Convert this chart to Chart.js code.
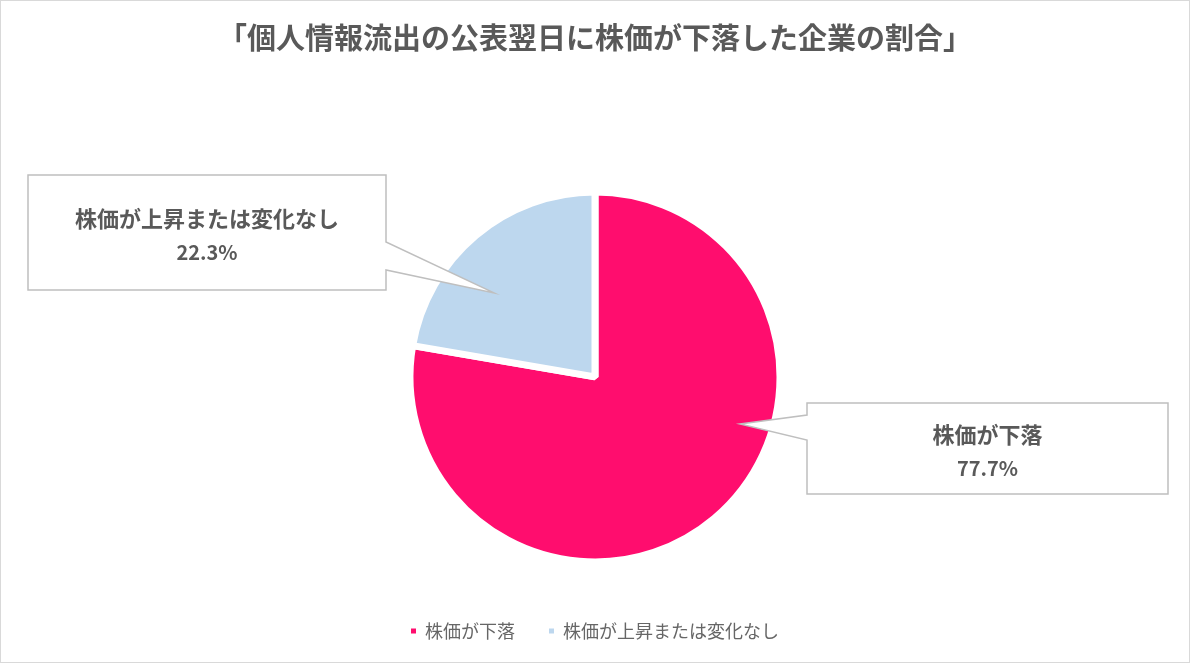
<!DOCTYPE html>
<html>
<head>
<meta charset="utf-8">
<script src="https://cdn.jsdelivr.net/npm/chart.js@4.4.1/dist/chart.umd.min.js"></script>
<style>
    html, body { margin: 0; padding: 0; background: #ffffff; }
    #wrap { width: 1190px; height: 663px; position: relative; }
</style>
</head>
<body>
<div id="wrap"><canvas id="pieChart"></canvas></div>
<script>
// data
var labels = ['株価が下落', '株価が上昇または変化なし']
var values = [77.7, 22.3]
var colors = ['#ff0d6e', '#bdd7ee']
var titleText = '「個人情報流出の公表翌日に株価が下落した企業の割合」'

var fontFamily = '"Noto Sans CJK JP", "Noto Sans", sans-serif'
var textColor = '#595959'

// callout boxes: box rect, side of the pointer, pointer base and tip (tip relative to pie, in radii)
var callouts = [
    { index: 0, x: 807, y: 403, w: 361, h: 91, side: 'left', base: [415, 440], tip: [0.784, 0.254] },
    { index: 1, x: 28, y: 175, w: 358, h: 115, side: 'right', base: [242, 270], tip: [-0.546, -0.454] }
]

var frame = {
    id: 'frame',
    beforeDraw: function (chart) {
        var ctx = chart.ctx
        ctx.save()
        ctx.fillStyle = '#ffffff'
        ctx.fillRect(0, 0, chart.width, chart.height)
        ctx.strokeStyle = '#d9d9d9'
        ctx.lineWidth = 1
        ctx.strokeRect(0.5, 0.5, chart.width - 1, chart.height - 1)
        ctx.restore()
    }
}

var calloutPlugin = {
    id: 'callouts',
    afterDatasetsDraw: function (chart) {
        var ctx = chart.ctx
        var arcs = chart.getDatasetMeta(0).data
        callouts.forEach(function (c) {
            var arc = arcs[c.index]
            var tx = arc.x + c.tip[0] * arc.outerRadius
            var ty = arc.y + c.tip[1] * arc.outerRadius
            ctx.save()
            ctx.beginPath()
            if (c.side === 'right') {
                ctx.moveTo(c.x, c.y)
                ctx.lineTo(c.x + c.w, c.y)
                ctx.lineTo(c.x + c.w, c.base[0])
                ctx.lineTo(tx, ty)
                ctx.lineTo(c.x + c.w, c.base[1])
                ctx.lineTo(c.x + c.w, c.y + c.h)
                ctx.lineTo(c.x, c.y + c.h)
            } else {
                ctx.moveTo(c.x, c.y)
                ctx.lineTo(c.x + c.w, c.y)
                ctx.lineTo(c.x + c.w, c.y + c.h)
                ctx.lineTo(c.x, c.y + c.h)
                ctx.lineTo(c.x, c.base[1])
                ctx.lineTo(tx, ty)
                ctx.lineTo(c.x, c.base[0])
            }
            ctx.closePath()
            ctx.fillStyle = '#ffffff'
            ctx.fill()
            ctx.strokeStyle = '#bfbfbf'
            ctx.lineWidth = 1.5
            ctx.stroke()

            var cx = c.x + c.w / 2
            var cy = c.y + c.h / 2
            ctx.fillStyle = textColor
            ctx.textAlign = 'center'
            ctx.textBaseline = 'middle'
            ctx.font = 'bold 22px ' + fontFamily
            ctx.fillText(labels[c.index], cx, cy - 14)
            ctx.font = 'bold 20px ' + fontFamily
            ctx.fillText(values[c.index].toFixed(1) + '%', cx, cy + 20)
            ctx.restore()
        })
    }
}

var pieCanvas = document.getElementById('pieChart').getContext('2d')
new Chart(pieCanvas, {
    type: 'pie',
    data: {
        labels: labels,
        datasets: [
            {
                data: values,
                backgroundColor: colors,
                borderColor: '#ffffff',
                borderWidth: 7,
                hoverOffset: 0,
                radius: 185
            }
        ]
    },
    options: {
        responsive: true,
        maintainAspectRatio: false,
        animation: false,
        layout: { padding: { top: 0, bottom: 13, left: 0, right: 0 } },
        plugins: {
            title: {
                display: true,
                text: titleText,
                color: textColor,
                font: { family: fontFamily, size: 29, weight: 'bold' },
                padding: { top: 21, bottom: 110 }
            },
            legend: {
                position: 'bottom',
                labels: {
                    color: '#666666',
                    font: { family: fontFamily, size: 18 },
                    boxWidth: 5,
                    boxHeight: 5,
                    padding: 34,
                    generateLabels: function (chart) {
                        var items = Chart.overrides.pie.plugins.legend.labels.generateLabels(chart)
                        items.forEach(function (it) {
                            it.lineWidth = 0
                            it.strokeStyle = 'rgba(0,0,0,0)'
                        })
                        return items
                    }
                }
            },
            tooltip: { enabled: false }
        }
    },
    plugins: [frame, calloutPlugin]
})
</script>
</body>
</html>
